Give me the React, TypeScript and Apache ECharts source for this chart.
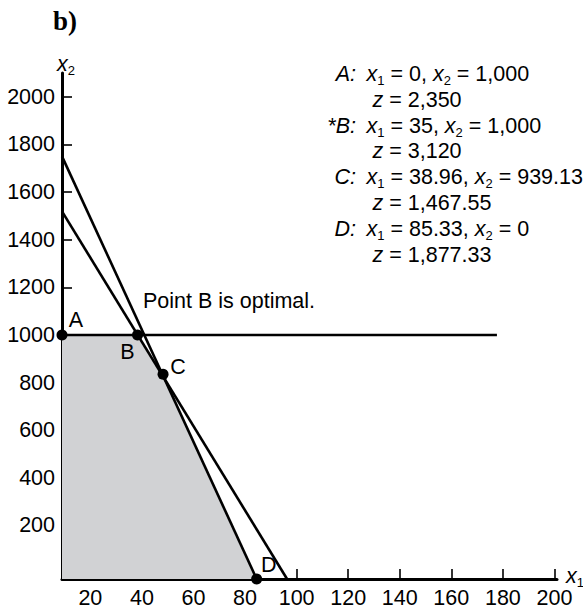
import React, { useEffect, useRef } from "react";
import * as echarts from "echarts";

// ---- data ----
const xTickValues = [20, 40, 60, 80, 100, 120, 140, 160, 180, 200];
const yTickValues = [200, 400, 600, 800, 1000, 1200, 1400, 1600, 1800, 2000];
const xExtent = [9, 201];
const yExtent = [-25, 2100];

const steepConstraint = [[9, 1750], [84.5, -25]];
const shallowConstraint = [[9, 1519], [96.3, -25]];
const capConstraint = [[9, 1000], [177.7, 1000]];
const feasibleEdge = [[9, 1000], [38.3, 1000], [48.1, 827], [84.5, -25]];

const cornerNames = ["A", "B", "C", "D"];
const cornerX = [9, 38.3, 48.2, 84.5];
const cornerY = [1000, 1000, 835, -25];

const solutionTags = ["A:", "*B:", "C:", "D:"];
const solutionX1 = ["0", "35", "38.96", "85.33"];
const solutionX2 = ["1,000", "1,000", "939.13", "0"];
const solutionZ = ["2,350", "3,120", "1,467.55", "1,877.33"];

const optimalNote = "Point B is optimal.";
const panelTitle = "b)";

// ---- styling ----
const FONT = "'Liberation Sans', Arial, Helvetica, sans-serif";
const FS = 21.5;
const labelOffsets: Record<string, number[]> = {
  A: [14, -15],
  B: [-10, 17],
  C: [15, -7],
  D: [12, -14],
};
const SYM = 11;

const rich = {
  i: { fontStyle: "italic", fontSize: FS, lineHeight: 26, fontFamily: FONT, fill: "#000" },
  n: { fontSize: FS, lineHeight: 26, fontFamily: FONT, fill: "#000" },
  s: { fontSize: 13, lineHeight: 13, verticalAlign: "bottom", fontFamily: FONT, fill: "#000" },
};

export default function App() {
  const ref = useRef<HTMLDivElement>(null);

  useEffect(() => {
    if (!ref.current) return;
    const chart = echarts.init(ref.current, undefined, { renderer: "svg" });

    const graphics: any[] = [];
    graphics.push({
      type: "text",
      left: 53,
      top: 7,
      style: {
        text: panelTitle,
        font: "bold 27px 'Liberation Serif', 'Times New Roman', serif",
        fill: "#000",
      },
    });
    // axis titles
    graphics.push({
      type: "text",
      x: 57,
      y: 64,
      style: { text: "{i|x}{s|2}", rich, verticalAlign: "middle", align: "left" },
    });
    graphics.push({
      type: "text",
      x: 566,
      y: 576,
      style: { text: "{i|x}{s|1}", rich, verticalAlign: "middle", align: "left" },
    });
    // solution block
    const lineGap = 25.8;
    solutionTags.forEach((tag, k) => {
      const yBase = 74 + k * 2 * lineGap;
      graphics.push({
        type: "text",
        x: 356,
        y: yBase,
        style: {
          text: tag,
          font: `italic ${FS}px ${FONT}`,
          fill: "#000",
          align: "right",
          verticalAlign: "middle",
        },
      });
      graphics.push({
        type: "text",
        x: 366.5,
        y: yBase,
        style: {
          text: `{i|x}{s|1}{n| = ${solutionX1[k]}, }{i|x}{s|2}{n| = ${solutionX2[k]}}`,
          rich,
          align: "left",
          verticalAlign: "middle",
        },
      });
      graphics.push({
        type: "text",
        x: 372.5,
        y: yBase + lineGap,
        style: {
          text: `{i|z}{n| = ${solutionZ[k]}}`,
          rich,
          align: "left",
          verticalAlign: "middle",
        },
      });
    });
    graphics.push({
      type: "text",
      x: 143,
      y: 301,
      style: {
        text: optimalNote,
        font: `${FS}px ${FONT}`,
        fill: "#000",
        align: "left",
        verticalAlign: "middle",
      },
    });

    const lineSeries = (data: number[][], z: number) => ({
      type: "line",
      data,
      symbol: "none",
      clip: false,
      z,
      lineStyle: { color: "#000", width: 2.6 },
      silent: true,
    });

    chart.setOption({
      animation: false,
      grid: { left: 62, right: 26, top: 73, bottom: 33, containLabel: false },
      xAxis: {
        type: "value",
        min: xExtent[0],
        max: xExtent[1],
        splitLine: { show: false },
        axisLine: { show: true, onZero: false, lineStyle: { color: "#000", width: 3 } },
        axisTick: {
          show: true,
          inside: true,
          length: 10,
          customValues: xTickValues,
          lineStyle: { color: "#000", width: 1.6 },
        },
        axisLabel: {
          customValues: xTickValues,
          formatter: (v: number) => String(v),
          color: "#000",
          fontSize: FS,
          fontFamily: FONT,
          margin: 8,
        },
      },
      yAxis: {
        type: "value",
        min: yExtent[0],
        max: yExtent[1],
        splitLine: { show: false },
        axisLine: { show: true, onZero: false, lineStyle: { color: "#000", width: 3 } },
        axisTick: {
          show: true,
          inside: true,
          length: 10,
          customValues: yTickValues,
          lineStyle: { color: "#000", width: 1.6 },
        },
        axisLabel: {
          customValues: yTickValues,
          formatter: (v: number) => String(v),
          color: "#000",
          fontSize: FS,
          fontFamily: FONT,
          margin: 7,
        },
      },
      series: [
        {
          type: "line",
          data: feasibleEdge,
          symbol: "none",
          clip: false,
          z: 1,
          lineStyle: { width: 0 },
          areaStyle: { color: "#d1d2d4", opacity: 1, origin: "start" },
          silent: true,
        },
        lineSeries(steepConstraint, 3),
        lineSeries(shallowConstraint, 3),
        lineSeries(capConstraint, 3),
        {
          type: "scatter",
          z: 5,
          clip: false,
          symbol: "circle",
          symbolSize: SYM,
          itemStyle: { color: "#000", opacity: 1 },
          data: cornerNames.map((n, k) => ({
            name: n,
            value: [cornerX[k], cornerY[k]],
            label: {
              show: true,
              position: [SYM / 2 + labelOffsets[n][0], SYM / 2 + labelOffsets[n][1]],
              align: "center",
              verticalAlign: "middle",
              formatter: n,
              color: "#000",
              opacity: 1,
              textBorderWidth: 0,
              fontSize: FS,
              fontFamily: FONT,
            },
          })),
        },
      ],
      graphic: graphics,
    });

    return () => chart.dispose();
  }, []);

  return <div ref={ref} style={{ width: 583, height: 612, position: "absolute", left: 0, top: 0 }} />;
}
